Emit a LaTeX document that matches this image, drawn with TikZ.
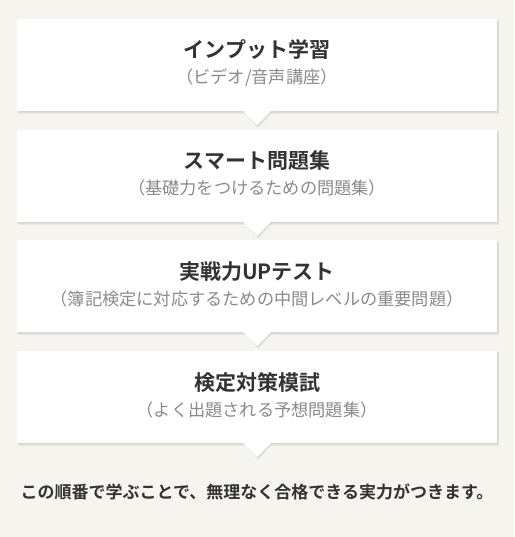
\documentclass[tikz,border=0pt]{standalone}
\usepackage{fontspec}
\setmainfont{Noto Sans CJK JP}
\newfontfamily\jpbold{Noto Sans CJK JP Bold}
\definecolor{bgcol}{HTML}{F6F4EE}
\definecolor{titlecol}{HTML}{333333}
\definecolor{subcol}{HTML}{8A8A8A}
\definecolor{shadowcol}{HTML}{CFCCC4}
\tikzset{
  stepbox/.style={fill=white, draw=none},
  titletext/.style={font=\jpbold\fontsize{21}{24}\selectfont, text=titlecol, inner sep=0pt},
  subtext/.style={font=\fontsize{17.2}{20}\selectfont, text=subcol, inner sep=0pt},
  shadowfx/.style={fill=shadowcol, opacity=0.35, draw=none},
}
\begin{document}
\begin{tikzpicture}[x=1pt,y=-1pt]
\useasboundingbox (0,0) rectangle (514,537);
\fill[bgcol] (0,0) rectangle (514,537);
% boxes: top y values
\foreach \t/\name in {19/b1,130/b2,240/b3,351/b4}{
  \pgfmathsetmacro{\bb}{\t+92}
  % shadow layers
  \foreach \d in {1,2,3}{
    \fill[shadowfx] (17+\d*0.4,\t+\d*0.6) rectangle (497+\d*0.8,\bb+\d*0.9);
    \fill[shadowfx] (243+\d*0.4,\bb) -- (271+\d*0.8,\bb) -- (257+\d*0.4,\bb+14+\d*0.9) -- cycle;
  }
  \fill[stepbox] (17,\t) rectangle (497,\bb);
  \fill[stepbox] (242.5,\bb-0.5) -- (271.5,\bb-0.5) -- (257,\bb+14) -- cycle;
}
\node[titletext] (t1) at (257,50) {インプット学習};
\node[subtext] (s1) at (257,77.5) {（ビデオ/音声講座）};
\node[titletext] (t2) at (257,161) {スマート問題集};
\node[subtext] (s2) at (257,188) {（基礎力をつけるための問題集）};
\node[titletext] (t3) at (257,272) {実戦力UPテスト};
\node[subtext] (s3) at (257,299) {（簿記検定に対応するための中間レベルの重要問題）};
\node[titletext] (t4) at (257,383) {検定対策模試};
\node[subtext] (s4) at (257,410) {（よく出題される予想問題集）};
\node[font=\jpbold\fontsize{17}{19}\selectfont, text=titlecol, inner sep=0pt] (foot) at (257,492) {この順番で学ぶことで、無理なく合格できる実力がつきます。};
\end{tikzpicture}
\end{document}
